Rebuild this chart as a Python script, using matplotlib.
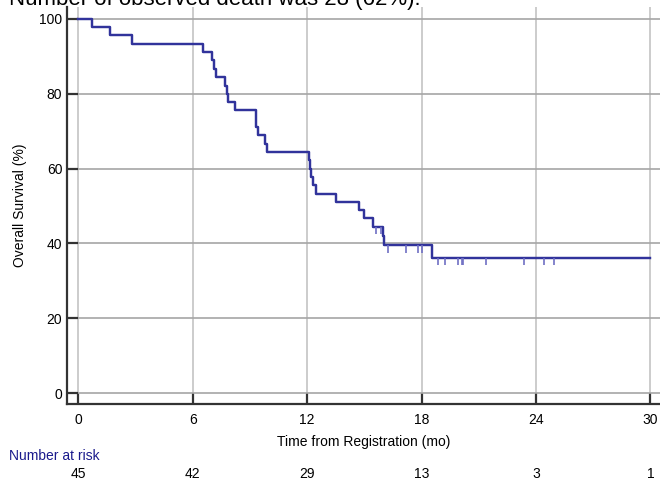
"""
Curva de sobrevida global (Kaplan-Meier) com numero em risco embaixo.
"""
import matplotlib
matplotlib.use("Agg")
import matplotlib.pyplot as plt, numpy as np
from matplotlib.transforms import blended_transform_factory

plt.rcParams["font.family"] = ["Liberation Sans", "DejaVu Sans"]

# tempos (meses) onde a curva desce e o nivel (%) logo depois
step_times = [0.72, 1.65, 2.82, 6.56, 7.0, 7.09, 7.21, 7.7, 7.79, 7.86, 8.23,
              9.30, 9.34, 9.44, 9.79, 9.88, 12.1, 12.16, 12.22, 12.3, 12.45,
              13.49, 14.7, 14.98, 15.46, 15.98, 16.02, 18.53]
step_surv = [97.8, 95.6, 93.3, 91.1, 88.9, 86.7, 84.4, 82.2, 80.0, 77.8, 75.6,
             73.3, 71.1, 68.9, 66.7, 64.4, 62.2, 60.0, 57.8, 55.6, 53.3,
             51.1, 48.9, 46.7, 44.4, 42.0, 39.5, 36.2]
# censuras (tracinhos)
censor_times = [15.63, 15.85, 16.25, 17.18, 17.79, 18.04, 18.88, 19.23,
                19.93, 20.12, 20.16, 21.37, 23.35, 24.44, 24.96]
last_time = 30

risk_times = [0, 6, 12, 18, 24, 30]
risk_counts = [45, 42, 29, 13, 3, 1]

title = "Number of observed death was 28 (62%)."

W, H = 660, 480
fig = plt.figure(figsize=(W / 100, H / 100), dpi=100)
ax = fig.add_axes([67.3 / W, (H - 404.3) / H, 1 - 67.3 / W, (404.3 - 7) / H])

line_color = "#31339b"

x = [0] + step_times + [last_time]
y = [100] + step_surv + [step_surv[-1]]
ax.step(x, y, where="post", color=line_color, lw=1.75, zorder=3)

# nivel da curva em cada censura
levels = np.r_[100, step_surv][np.searchsorted(step_times, censor_times, side="right")]
ax.vlines(censor_times, levels - 2.0, levels, color="#6f6fc4", lw=1.2, zorder=3)

ax.set_xlim(-0.58, 30.5)
ax.set_ylim(-3.0, 103.2)
ax.set_xticks(risk_times)
ax.set_yticks(np.arange(0, 101, 20))

ax.set_axisbelow(True)
ax.xaxis.grid(True, color="#c4c4c4", lw=1.2)
ax.yaxis.grid(True, color="#a6a6a6", lw=1.2)

for s in ["top", "right"]:
    ax.spines[s].set_visible(False)
for s in ["left", "bottom"]:
    ax.spines[s].set_color("#333333")
    ax.spines[s].set_linewidth(1.6)

ax.tick_params(axis="both", direction="in", length=7.6, width=1.6,
               color="#333333", labelsize=10)
ax.tick_params(axis="x", pad=6)
ax.tick_params(axis="y", pad=3.6)

ax.set_xlabel("Time from Registration (mo)", fontsize=10, labelpad=6)
ax.set_ylabel("Overall Survival (%)", fontsize=10, labelpad=9)

# numero em risco
trans = blended_transform_factory(ax.transData, fig.transFigure)
for t, n in zip(risk_times, risk_counts):
    ax.text(t, 1 - 474 / H, str(n), transform=trans, ha="center", va="center",
            fontsize=10, clip_on=False)
fig.text(9 / W, 1 - 456 / H, "Number at risk", color="#1a1a8c",
         ha="left", va="center", fontsize=10)

# titulo cortado no topo, igual a referencia
fig.text(421 / W, 1 - 5 / H, title, ha="right", va="baseline", fontsize=16)

fig.savefig("out.png", dpi=100)
